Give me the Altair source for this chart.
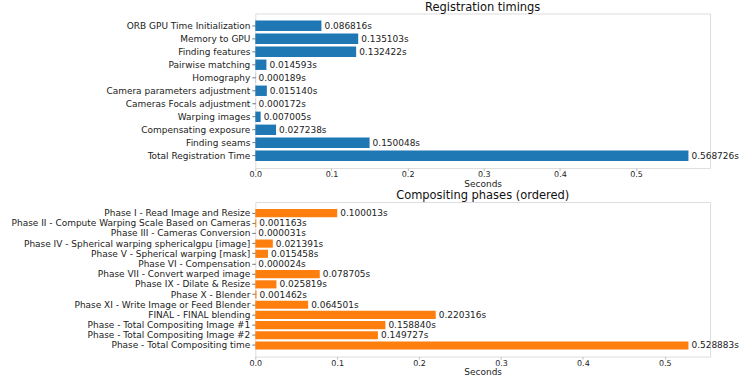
import altair as alt
import pandas as pd

reg_steps = [
    "ORB GPU Time Initialization",
    "Memory to GPU",
    "Finding features",
    "Pairwise matching",
    "Homography",
    "Camera parameters adjustment",
    "Cameras Focals adjustment",
    "Warping images",
    "Compensating exposure",
    "Finding seams",
    "Total Registration Time",
]
reg_secs = [0.086816, 0.135103, 0.132422, 0.014593, 0.000189, 0.015140,
            0.000172, 0.007005, 0.027238, 0.150048, 0.568726]

comp_steps = [
    "Phase I - Read Image and Resize",
    "Phase II - Compute Warping Scale Based on Cameras",
    "Phase III - Cameras Conversion",
    "Phase IV - Spherical warping sphericalgpu [image]",
    "Phase V - Spherical warping [mask]",
    "Phase VI - Compensation",
    "Phase VII - Convert warped image",
    "Phase IX - Dilate & Resize",
    "Phase X - Blender",
    "Phase XI - Write Image or Feed Blender",
    "FINAL - FINAL blending",
    "Phase - Total Compositing Image #1",
    "Phase - Total Compositing Image #2",
    "Phase - Total Compositing time",
]
comp_secs = [0.100013, 0.001163, 0.000031, 0.021391, 0.015458, 0.000024,
             0.078705, 0.025819, 0.001462, 0.064501, 0.220316, 0.158840,
             0.149727, 0.528883]

x_ticks = [0.0, 0.1, 0.2, 0.3, 0.4, 0.5]

FONT = "DejaVu Sans"
FS = 9


def panel(steps, secs, color, title, outer):
    df = pd.DataFrame({"step": steps, "sec": secs})
    df["label"] = [f"{v:.6f}s" for v in secs]
    xmax = max(secs) * 1.05
    y = alt.Y("step:N", sort=None, title=None,
              scale=alt.Scale(paddingInner=0.2, paddingOuter=outer),
              axis=alt.Axis(labelFont=FONT, labelFontSize=FS, labelColor="#222",
                            tickSize=3.5, tickColor="#777", labelPadding=2,
                            domain=False, minExtent=248, maxExtent=248,
                            labelLimit=300))
    x = alt.X("sec:Q", title="Seconds",
              scale=alt.Scale(domain=[0, xmax], nice=False, zero=True),
              axis=alt.Axis(values=x_ticks, format=".1f", labelFont=FONT,
                            labelFontSize=8, labelColor="#222", tickSize=2.5,
                            tickColor="#bbb", labelPadding=0, domain=False,
                            labelFlush=False, labelAlign="center",
                            grid=False, titleFont=FONT, titleFontSize=9,
                            titleFontWeight="normal", titleColor="#222",
                            titlePadding=0, minExtent=11, maxExtent=11))
    bars = alt.Chart(df).mark_bar(color=color).encode(x=x, y=y)
    text = alt.Chart(df).mark_text(align="left", baseline="middle", dx=3,
                                   font=FONT, fontSize=FS, color="#222").encode(
        x="sec:Q", y=alt.Y("step:N", sort=None), text="label:N")
    return (bars + text).properties(
        width=456, height=155,
        title=alt.TitleParams(title, font=FONT, fontSize=11.5,
                              fontWeight="normal", color="#111", offset=0))


top = panel(reg_steps, reg_secs, "#1f77b4", "Registration timings", 0.54)
bottom = panel(comp_steps, comp_secs, "#ff7f0e", "Compositing phases (ordered)", 0.69)

chart = alt.vconcat(top, bottom, spacing=1).properties(
    padding={"left": 7, "top": 1, "right": 5, "bottom": 0}
).configure_view(stroke="#cccccc", strokeWidth=1).configure(background="white")

chart.save("out.html", embed_options={"renderer": "svg", "actions": False})
